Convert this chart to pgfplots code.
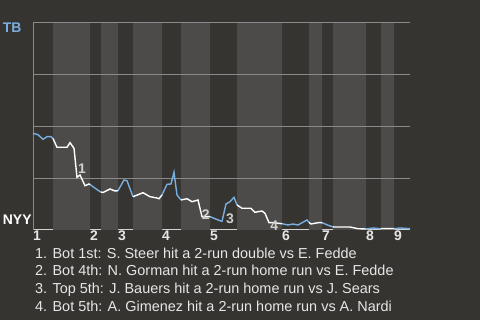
\documentclass[border=0pt]{standalone}
\usepackage{pgfplots}
\pgfplotsset{compat=1.18}
\usepackage{fontspec}
\setmainfont{Liberation Sans}
\definecolor{bgdark}{HTML}{363431}
\definecolor{bandlight}{HTML}{4C4B49}
\definecolor{gridgray}{HTML}{8A8A8A}
\definecolor{tbblue}{HTML}{79AEE0}
\definecolor{txt}{HTML}{E6E6E6}
\definecolor{annot}{HTML}{CFCFCF}
\begin{document}
\begin{tikzpicture}
\fill[bgdark] (0,0) rectangle (480bp,320bp);
\begin{axis}[
  at={(33bp,90bp)}, anchor=south west,
  scale only axis, width=377bp, height=208bp,
  xmin=33, xmax=410, ymin=0, ymax=208,
  axis lines=left, axis line style={-},
  x axis line style={draw=txt, line width=1bp},
  y axis line style={draw=gridgray, line width=1bp},
  ytick={52,104,156,208}, yticklabels={},
  major tick length=0,
  xtick={37,94,122,166,214,286,326,370,398},
  xticklabels={1,2,3,4,5,6,7,8,9},
  xticklabel style={font=\fontsize{14}{14}\selectfont\bfseries, text=txt, inner sep=1bp},
  unbounded coords=jump,
  clip=false,
]
\addplot[const plot, fill=bandlight, draw=none] coordinates {
(33,0)(53,208)(90,0)(101,208)(118,0)(133,208)(162,0)(181,208)(210,0)(237,208)(282,0)(309,208)(322,0)(333,208)(366,0)(381,208)(394,0)(410,0)} \closedcycle;
% horizontal reference lines
\addplot[gridgray, line width=0.8bp] coordinates {(33,52)(410,52)};
\addplot[gridgray, line width=0.8bp] coordinates {(33,104)(410,104)};
\addplot[gridgray, line width=0.8bp] coordinates {(33,156)(410,156)};
\addplot[gridgray, line width=0.8bp] coordinates {(33,208)(410,208)};
% top halves (TB batting) in blue
\addplot[tbblue, line width=1.4bp, no markers] coordinates {
(33,96.7)(38,95.3)(43,90.7)(47,93.3)(51,93.3)(53,91.5)
(nan,nan)
(90,45.5)(93,43.3)(100,38.3)(101,38)
(nan,nan)
(118,39.3)(124,50)(127,49.3)(133,33.3)
(nan,nan)
(162,35)(167,45.7)(171,46)(174,57.7)(177,35)(181,30)
(nan,nan)
(210,13.3)(215,11.3)(220,9.3)(222,8.7)(226,26)(230,28.3)(234,32.7)(237,25)
(nan,nan)
(282,6.3)(288,5)(293,6)(298,5)(307,10)(309,7.5)
(nan,nan)
(322,7.3)(330,4)(333,3.2)
(nan,nan)
(366,1)(373,2)(380,1.3)(381,1.3)
(nan,nan)
(394,1.3)(400,2)(410,1.3)
};
% bottom halves (NYY batting) in white
\addplot[white, line width=1.4bp, no markers] coordinates {
(53,91.5)(57,82.7)(67,82.7)(70,87.3)(74,81.7)(77,52.7)(80,55)(85,44.3)(89,46)(90,45.5)
(nan,nan)
(101,38)(103,37.5)(110,41)(115,39)(118,39.3)
(nan,nan)
(133,33.3)(143,37.3)(150,33.3)(157,32)(159,31.3)(162,35)
(nan,nan)
(181,30)(187,31.3)(192,28.3)(198,30)(202,13.3)(210,13.3)
(nan,nan)
(237,25)(242,21.7)(251,21.7)(255,17.7)(258,18.3)(262,19)(265,16.7)(269,7.3)(273,7.3)(282,6.3)
(nan,nan)
(309,7.5)(311,6)(318,7.3)(322,7.3)
(nan,nan)
(333,3.2)(334,3)(350,3)(358,1.3)(366,1)
(nan,nan)
(381,1.3)(393,1.3)(394,1.3)
};
\begin{scope}[every node/.style={font=\fontsize{14}{14}\selectfont\bfseries, text=annot, inner sep=0pt}]
\node at (axis cs:82,61) {1};
\node at (axis cs:205.7,15.7) {2};
\node at (axis cs:230,11.7) {3};
\node at (axis cs:274.3,4) {4};
\end{scope}
\end{axis}
\node[anchor=base west, inner sep=0pt, text=tbblue, font=\fontsize{14}{14}\selectfont\bfseries] at (2.7bp,287bp) {TB};
\node[anchor=base west, inner sep=0pt, text=white, font=\fontsize{14}{14}\selectfont\bfseries] at (2.7bp,95bp) {NYY};
\begin{scope}[every node/.style={anchor=base west, inner sep=0pt, text=txt, font=\fontsize{14.5}{14.5}\selectfont}]
\node at (35bp,61.7bp) {1. Bot 1st: S. Steer hit a 2-run double vs E. Fedde};
\node at (35bp,44bp) {2. Bot 4th: N. Gorman hit a 2-run home run vs E. Fedde};
\node at (35bp,26.3bp) {3. Top 5th: J. Bauers hit a 2-run home run vs J. Sears};
\node at (35bp,8.6bp) {4. Bot 5th: A. Gimenez hit a 2-run home run vs A. Nardi};
\end{scope}
\useasboundingbox (0,0) rectangle (480bp,320bp);
\end{tikzpicture}
\end{document}
